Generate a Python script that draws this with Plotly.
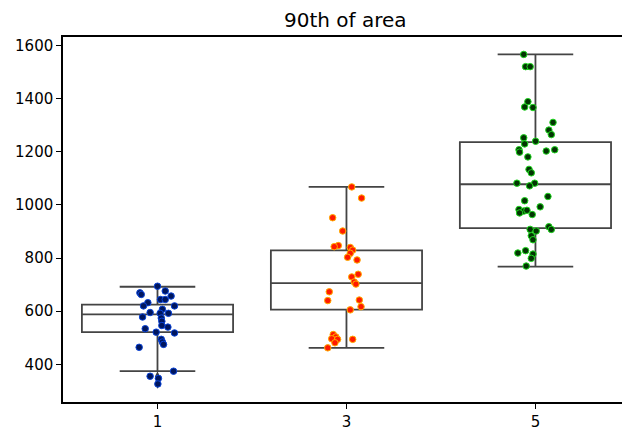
import plotly.graph_objects as go

# ---- data ----
categories = ["1", "3", "5"]

vals_1 = [694, 676, 669, 663, 657, 644, 644, 632, 620, 620, 607, 595, 592, 592, 578,
          574, 562, 546, 540, 534, 521, 518, 494, 484, 475, 464, 374, 355, 347, 326]
jit_1 = [0.000, 0.041, -0.093, -0.086, 0.072, 0.016, 0.041, -0.051, -0.074, 0.090,
         0.026, -0.039, 0.014, 0.058, -0.079, 0.020, 0.023, 0.023, 0.055, -0.065,
         -0.007, 0.090, 0.020, 0.026, 0.032, -0.097, 0.085, -0.039, 0.005, 0.002]

vals_3 = [1068, 1026, 952, 902, 847, 843, 840, 830, 818, 803, 793, 739, 729, 710, 702,
          673, 640, 642, 617, 605, 512, 503, 496, 494, 494, 481, 462]
jit_3 = [0.028, 0.080, -0.073, -0.020, -0.043, -0.065, 0.020, 0.033, 0.020, 0.006,
         0.056, 0.062, 0.028, 0.041, 0.050, -0.091, -0.099, 0.068, 0.077, 0.020,
         -0.070, -0.056, -0.078, -0.047, 0.033, -0.061, -0.099]

vals_5 = [1567, 1521, 1521, 1389, 1369, 1367, 1311, 1282, 1265, 1253, 1240, 1230, 1208,
          1199, 1203, 1208, 1181, 1134, 1121, 1082, 1082, 1072, 1032, 1016, 993, 983,
          977, 980, 964, 970, 908, 902, 918, 908, 884, 869, 828, 819, 815, 799, 770]
jit_5 = [-0.062, -0.052, -0.028, -0.040, -0.057, -0.013, 0.093, 0.071, 0.084, -0.062,
         0.001, -0.057, -0.087, -0.084, 0.057, 0.102, -0.040, -0.034, -0.022, -0.098,
         -0.004, -0.031, 0.066, -0.057, 0.025, -0.087, -0.062, -0.045, -0.017, -0.084,
         -0.028, 0.004, 0.071, 0.084, -0.022, -0.013, -0.052, -0.093, -0.013, -0.022,
         -0.049]

# box statistics (as drawn)
q1 = [521, 606, 913]
median = [588, 706, 1078]
q3 = [625, 829, 1237]
lowerfence = [374, 462, 768]
upperfence = [692, 1068, 1567]
fliers_1 = [355, 347, 326]

fill_colors = ["#00165e", "#ff1a00", "#033503"]
edge_colors = ["#0a44d8", "#ffae00", "#1fd81f"]

positions = list(range(len(categories)))
groups = [(vals_1, jit_1), (vals_3, jit_3), (vals_5, jit_5)]

fig = go.Figure()

for i, p in enumerate(positions):
    fig.add_trace(go.Box(
        x=[p], q1=[q1[i]], median=[median[i]], q3=[q3[i]],
        lowerfence=[lowerfence[i]], upperfence=[upperfence[i]],
        orientation="v", width=0.8, whiskerwidth=0.5,
        fillcolor="rgba(255,255,255,0)",
        line=dict(color="#444444", width=1.8),
        boxpoints=False, showlegend=False, hoverinfo="skip",
    ))

fig.add_trace(go.Scatter(
    x=[positions[0]] * len(fliers_1), y=fliers_1, mode="markers",
    marker=dict(symbol="diamond-tall", size=7, color="#3d3d3d"),
    showlegend=False, hoverinfo="skip",
))

for i, (vals, jit) in enumerate(groups):
    fig.add_trace(go.Scatter(
        x=[positions[i] + j for j in jit], y=vals, mode="markers",
        marker=dict(size=6.5, color=fill_colors[i],
                    line=dict(color=edge_colors[i], width=1)),
        showlegend=False,
    ))

fig.update_layout(
    width=622, height=431,
    margin=dict(l=63, r=0, t=37, b=24),
    paper_bgcolor="white", plot_bgcolor="white",
    font=dict(family="DejaVu Sans", size=15, color="black"),
    title=dict(text="90th of area", x=0.505, xref="paper", xanchor="center",
               y=1 - 20 / 431, yref="container", yanchor="middle",
               font=dict(family="DejaVu Sans", size=20, color="black")),
)
fig.update_xaxes(
    range=[-0.5, 2.458], tickvals=positions, ticktext=categories,
    showline=True, linecolor="black", linewidth=1.5, mirror=True,
    ticks="outside", ticklen=5, tickcolor="black", tickwidth=1.2,
    showgrid=False, zeroline=False,
)
fig.update_yaxes(
    range=[258, 1632.6], tickvals=[400, 600, 800, 1000, 1200, 1400, 1600],
    showline=True, linecolor="black", linewidth=1.5,
    ticks="outside", ticklen=5, tickcolor="black", tickwidth=1.2,
    showgrid=False, zeroline=False,
)

fig.write_html("out.html")
